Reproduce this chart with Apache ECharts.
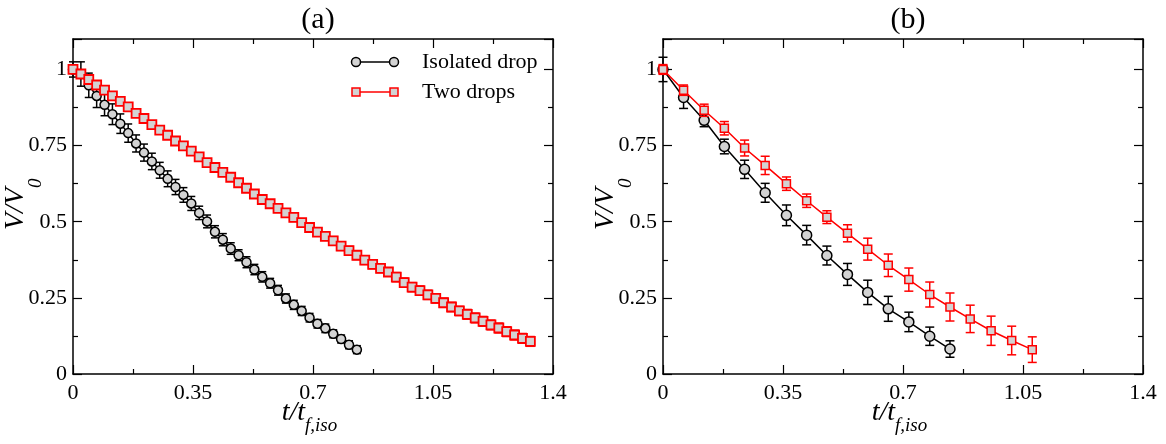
<!DOCTYPE html>
<html>
<head>
<meta charset="utf-8">
<script src="https://cdn.jsdelivr.net/npm/echarts@6/dist/echarts.min.js"></script>
<style>
html,body{margin:0;padding:0;background:#fff}
#Chart{width:1166px;height:444px}
</style>
</head>
<body>
<div id="Chart"></div>
<script>
// (a) time axis, t/t_f,iso
var timeA=[0,0.023,0.046,0.069,0.092,0.115,0.138,0.161,0.184,0.207,0.230,0.253,0.276,0.299,0.322,0.345,0.368,0.391,0.414,0.437,
    0.460,0.483,0.506,0.529,0.552,0.575,0.598,0.621,0.644,0.667,0.690,0.713,0.736,0.759,0.782,0.805,0.828,0.851,0.874,0.897,
    0.920,0.943,0.966,0.989,1.012,1.035,1.058,1.081,1.104,1.127,1.150,1.173,1.196,1.219,1.242,1.265,1.288,1.311,1.334]
// (a) isolated drop
var isoA=[1.000,0.985,0.948,0.913,0.884,0.853,0.822,0.791,0.757,0.727,0.698,0.669,0.641,0.614,0.588,0.560,0.529,0.501,0.467,0.441,
    0.412,0.390,0.367,0.343,0.319,0.298,0.275,0.248,0.227,0.207,0.185,0.165,0.150,0.132,0.115,0.096,0.080]
var isoErrA=[0.025,0.040,0.040,0.038,0.036,0.034,0.032,0.030,0.028,0.028,0.027,0.026,0.026,0.025,0.024,0.023,0.022,0.021,0.020,0.020,
    0.019,0.018,0.018,0.017,0.017,0.016,0.016,0.015,0.015,0.015,0.014,0.014,0.014,0.013,0.013,0.013,0.013]
// (a) two drops
var twoA=[1.000,0.985,0.967,0.949,0.932,0.913,0.895,0.877,0.856,0.839,0.819,0.801,0.784,0.765,0.749,0.732,0.713,0.694,0.678,0.662,
    0.646,0.628,0.610,0.591,0.573,0.559,0.544,0.529,0.514,0.497,0.481,0.466,0.452,0.437,0.420,0.405,0.390,0.374,0.360,0.347,
    0.335,0.318,0.300,0.285,0.274,0.260,0.248,0.234,0.220,0.207,0.196,0.184,0.173,0.161,0.151,0.139,0.128,0.117,0.107]
var twoErrA=[0.010,0.011,0.011,0.011,0.012,0.012,0.012,0.012,0.012,0.012,0.012,0.012,0.012,0.012,0.012,0.012,0.012,0.012,0.012,0.012,
    0.012,0.012,0.012,0.012,0.013,0.013,0.013,0.013,0.013,0.013,0.013,0.013,0.013,0.014,0.014,0.014,0.014,0.014,0.014,0.014,
    0.014,0.015,0.015,0.015,0.015,0.015,0.015,0.015,0.015,0.015,0.016,0.016,0.016,0.016,0.016,0.016,0.016,0.016,0.016]

// (b)
var timeB=[0,0.060,0.120,0.179,0.238,0.298,0.360,0.419,0.478,0.538,0.597,0.657,0.717,0.778,0.837,0.896,0.957,1.017,1.077]
var isoB=[1.000,0.908,0.833,0.747,0.672,0.595,0.521,0.456,0.389,0.327,0.268,0.214,0.171,0.124,0.082]
var isoErrB=[0.040,0.036,0.021,0.024,0.030,0.031,0.034,0.032,0.031,0.036,0.040,0.041,0.032,0.030,0.027]
var twoB=[1.000,0.932,0.866,0.807,0.742,0.685,0.625,0.569,0.515,0.462,0.410,0.357,0.310,0.261,0.220,0.181,0.142,0.110,0.080]
var twoErrB=[0.016,0.017,0.020,0.022,0.026,0.030,0.022,0.022,0.021,0.028,0.036,0.037,0.038,0.041,0.046,0.045,0.048,0.047,0.042]

var names=['Isolated drop','Two drops']

var FONT='Liberation Serif'
var RED='#ff0000',BLK='#000000',GREY='#d3d3d3'

//数据整理
function pts(t,v){
    var out=[]
    for(var i=0;i<v.length;i++) out.push([t[i],v[i]])
    return out
}
function bars(t,v,e){
    var out=[]
    for(var i=0;i<v.length;i++) out.push([t[i],v[i]-e[i],v[i]+e[i]])
    return out
}

//误差线
function errRender(color,capW){
    return function(params,api){
        var x=api.value(0)
        var p1=api.coord([x,api.value(1)]),p2=api.coord([x,api.value(2)])
        var st={stroke:color,lineWidth:1.5}
        return {type:'group',children:[
            {type:'line',shape:{x1:p1[0],y1:p1[1],x2:p2[0],y2:p2[1]},style:st},
            {type:'line',shape:{x1:p1[0]-capW,y1:p1[1],x2:p1[0]+capW,y2:p1[1]},style:st},
            {type:'line',shape:{x1:p2[0]-capW,y1:p2[1],x2:p2[0]+capW,y2:p2[1]},style:st}
        ]}
    }
}

function xAx(grid,bottom){
    return {
        type:'value',gridIndex:grid,position:bottom?'bottom':'top',
        min:0,max:1.4,interval:0.35,
        axisLine:{show:true,onZero:false,lineStyle:{color:'#000',width:1.5}},
        axisTick:{show:true,inside:true,length:9,lineStyle:{color:'#000',width:1.2}},
        minorTick:{show:true,splitNumber:2,length:5,lineStyle:{color:'#000',width:1.2}},
        axisLabel:{show:bottom,fontFamily:FONT,fontSize:22,color:'#000',margin:8},
        splitLine:{show:false}
    }
}
function yAx(grid,left){
    return {
        type:'value',gridIndex:grid,position:left?'left':'right',
        min:0,max:1.1,interval:0.25,
        axisLine:{show:true,onZero:false,lineStyle:{color:'#000',width:1.5}},
        axisTick:{show:true,inside:true,length:9,lineStyle:{color:'#000',width:1.2}},
        minorTick:{show:true,splitNumber:2,length:5,lineStyle:{color:'#000',width:1.2}},
        axisLabel:{show:left,showMaxLabel:false,fontFamily:FONT,fontSize:22,color:'#000',margin:6},
        splitLine:{show:false}
    }
}

//轴名称(带下标)
function subName(x,y,rot,main,sub,drop){
    var st=function(t,size,align,yy){
        return {type:'text',x:0,y:yy,style:{text:t,fontFamily:FONT,fontStyle:'italic',fontSize:size,fill:'#000',
            align:align,textAlign:align,verticalAlign:'middle',textVerticalAlign:'middle'}}
    }
    return {type:'group',x:x,y:y,rotation:rot,children:[
        st(main,28,'right',-9.5),
        st(sub,19,'left',drop-6.5)
    ]}
}

function errSeries(name,data,axis,color,capW,z){
    return {name:name,type:'custom',xAxisIndex:axis,yAxisIndex:axis,data:data,
        renderItem:errRender(color,capW),z:z,silent:true}
}
function lineSeries(name,data,axis,color,symbol,size,bw,z){
    return {name:name,type:'line',xAxisIndex:axis,yAxisIndex:axis,data:data,
        symbol:symbol,symbolSize:size,showAllSymbol:true,z:z,
        lineStyle:{color:color,width:1.5},
        itemStyle:{color:GREY,borderColor:color,borderWidth:bw},
        animation:false}
}

//图例
function legendItem(y,color,symbol,text){
    var mk=function(cx){
        if(symbol=='circle') return {type:'circle',shape:{cx:cx,cy:y,r:4.5},style:{fill:GREY,stroke:color,lineWidth:1.5}}
        return {type:'rect',shape:{x:cx-4,y:y-4,width:8,height:8},style:{fill:GREY,stroke:color,lineWidth:1.5}}
    }
    return [
        {type:'line',shape:{x1:356,y1:y,x2:394,y2:y},style:{stroke:color,lineWidth:1.5}},
        mk(356),mk(394),
        {type:'text',x:422,y:y,style:{text:text,fontFamily:FONT,fontSize:22,fill:'#000',verticalAlign:'middle',textVerticalAlign:'middle'}}
    ]
}

function drawChar(){
    var myChart=echarts.init(document.getElementById('Chart'))
    var graphics=legendItem(62,BLK,'circle',names[0]).concat(legendItem(92,RED,'rect',names[1]))
    graphics.push(subName(305,422,0,'t/t','f,iso',10))
    graphics.push(subName(895,422,0,'t/t','f,iso',10))
    graphics.push(subName(25,188,Math.PI/2,'V/V','0',17))
    graphics.push(subName(615,188,Math.PI/2,'V/V','0',17))
    var option={
        animation:false,
        title:[
            {text:'(a)',left:313,top:0,textAlign:'center',textStyle:{fontFamily:FONT,fontSize:30,fontWeight:'normal',color:'#000'}},
            {text:'(b)',left:903,top:0,textAlign:'center',textStyle:{fontFamily:FONT,fontSize:30,fontWeight:'normal',color:'#000'}}
        ],
        grid:[
            {left:73,top:39,width:480,height:335,outerBoundsMode:'none',containLabel:false},
            {left:663,top:39,width:480,height:335,outerBoundsMode:'none',containLabel:false}
        ],
        xAxis:[xAx(0,true),xAx(0,false),xAx(1,true),xAx(1,false)],
        yAxis:[yAx(0,true),yAx(0,false),yAx(1,true),yAx(1,false)],
        graphic:graphics,
        series:[
            errSeries(names[0],bars(timeA,isoA,isoErrA),0,BLK,4,1),
            lineSeries(names[0],pts(timeA,isoA),0,BLK,'circle',9,1.5,2),
            errSeries(names[1],bars(timeA,twoA,twoErrA),0,RED,4.5,3),
            lineSeries(names[1],pts(timeA,twoA),0,RED,'rect',9,1.8,4),
            errSeries(names[0],bars(timeB,isoB,isoErrB),2,BLK,4.5,1),
            lineSeries(names[0],pts(timeB,isoB),2,BLK,'circle',10,1.5,2),
            errSeries(names[1],bars(timeB,twoB,twoErrB),2,RED,4.5,3),
            lineSeries(names[1],pts(timeB,twoB),2,RED,'rect',8,1.5,4)
        ]
    }
    myChart.setOption(option)
}

drawChar()
</script>
</body>
</html>
